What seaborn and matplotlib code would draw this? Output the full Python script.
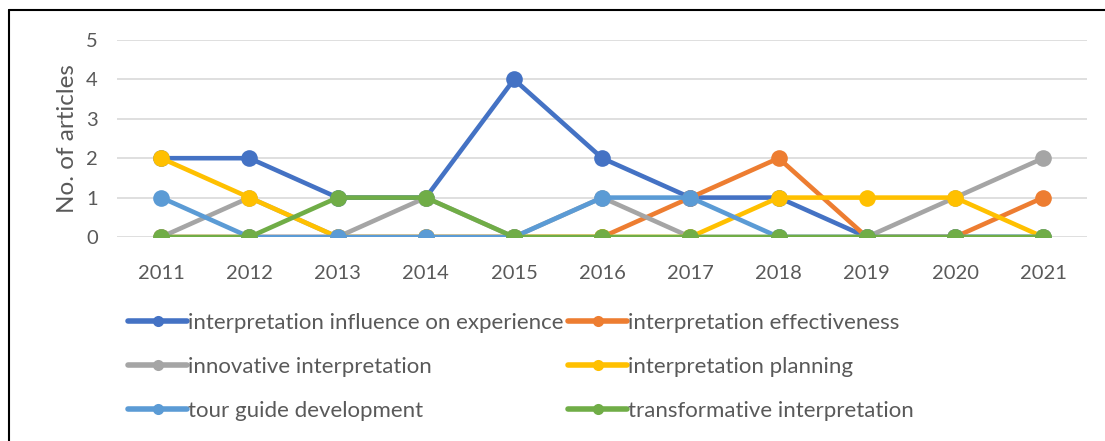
import numpy as np
import pandas as pd
import matplotlib
matplotlib.use("Agg")
import matplotlib.pyplot as plt
import seaborn as sns
from matplotlib.lines import Line2D

years = [2011, 2012, 2013, 2014, 2015, 2016, 2017, 2018, 2019, 2020, 2021]
topics = [
    "interpretation influence on experience",
    "interpretation effectiveness",
    "innovative interpretation",
    "interpretation planning",
    "tour guide development",
    "transformative interpretation",
]
influence = [2, 2, 1, 1, 4, 2, 1, 1, 0, 0, 0]
effectiveness = [0, 0, 0, 0, 0, 0, 1, 2, 0, 0, 1]
innovative = [0, 1, 0, 1, 0, 1, 0, 0, 0, 1, 2]
planning = [2, 1, 0, 0, 0, 0, 0, 1, 1, 1, 0]
tour_guide = [1, 0, 0, 0, 0, 1, 1, 0, 0, 0, 0]
transformative = [0, 0, 1, 1, 0, 0, 0, 0, 0, 0, 0]
colors = ["#4472C4", "#ED7D31", "#A5A5A5", "#FFC000", "#5B9BD5", "#70AD47"]

series = [influence, effectiveness, innovative, planning, tour_guide, transformative]
rows = []
for name, vals in zip(topics, series):
    for y, v in zip(years, vals):
        rows.append({"year": y, "count": v, "topic": name})
df = pd.DataFrame(rows)

sns.set_style("white")
plt.rcParams["font.family"] = ["Lato", "DejaVu Sans"]
text_col = "#595959"

fig = plt.figure(figsize=(11.05, 4.41), dpi=100)
ax = fig.add_axes([0.106, 0.4626, 0.878, 0.4467])

sns.lineplot(data=df, x="year", y="count", hue="topic", hue_order=topics,
             palette=colors, marker="o", markersize=12, markeredgewidth=0,
             linewidth=3.3, ax=ax, legend=False)

ax.set_xlim(2010.5, 2021.5)
ax.set_ylim(0, 5)
ax.set_xticks(years)
ax.set_xticklabels([str(y) for y in years])
ax.set_yticks(range(6))
ax.grid(axis="y", color="#D9D9D9", linewidth=1.2)
ax.set_axisbelow(True)
for s in ax.spines.values():
    s.set_visible(False)
ax.tick_params(axis="both", colors=text_col, labelsize=14.5, length=0)
ax.tick_params(axis="x", pad=20)
ax.tick_params(axis="y", pad=14)
ax.set_xlabel("")
ax.set_ylabel("No. of articles", fontsize=17.5, color=text_col, labelpad=6)

# legend handles: thick line with a small dot, as in the Excel legend
handles = [Line2D([], [], color=c, linewidth=4, marker="o", markersize=8,
                  markeredgewidth=0) for c in colors]
order = [0, 2, 4, 1, 3, 5]
fig.legend([handles[i] for i in order], [topics[i] for i in order],
           loc="upper left", bbox_to_anchor=(0.108, 0.31), ncol=2,
           frameon=False, fontsize=16, labelcolor=text_col,
           handlelength=2.65, handletextpad=0.05, columnspacing=0.2,
           labelspacing=1.08, borderaxespad=0)

# outer frame (top and left edges visible in the reference)
fig.add_artist(Line2D([0.008, 1.0], [0.977, 0.977], transform=fig.transFigure,
                      color="black", linewidth=1.5))
fig.add_artist(Line2D([0.008, 0.008], [0.0, 0.977], transform=fig.transFigure,
                      color="black", linewidth=1.5))

fig.savefig("out.png", dpi=100)
